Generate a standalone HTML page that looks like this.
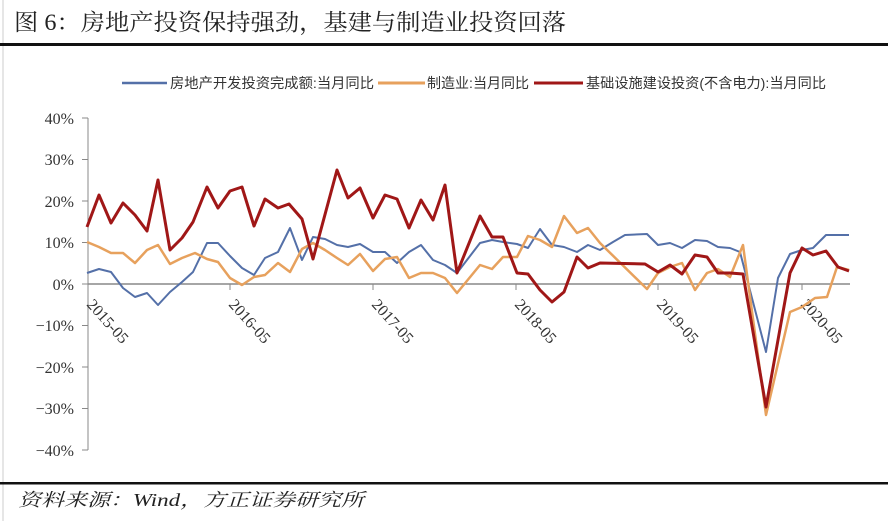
<!DOCTYPE html>
<html><head><meta charset="utf-8"><style>
body{margin:0;background:#fff;}
svg{display:block;}
</style></head><body>
<svg width="888" height="521" viewBox="0 0 888 521" xmlns="http://www.w3.org/2000/svg">
<rect width="888" height="521" fill="#fff"/>
<line x1="3" y1="0" x2="3" y2="521" stroke="#ccc" stroke-width="1"/>
<text x="14" y="30" textLength="552" lengthAdjust="spacingAndGlyphs" font-family="'Liberation Serif','Noto Serif CJK SC',serif" font-size="23" fill="#222">图 6：房地产投资保持强劲，基建与制造业投资回落</text>
<rect x="0" y="43" width="888" height="3" fill="#111"/>
<g font-family="'Liberation Sans','Noto Sans CJK SC',sans-serif" font-size="14" fill="#333">
<line x1="122" y1="83" x2="167" y2="83" stroke="#5470a8" stroke-width="2.5"/>
<text x="170" y="88" textLength="204" lengthAdjust="spacingAndGlyphs">房地产开发投资完成额:当月同比</text>
<line x1="378" y1="83" x2="425" y2="83" stroke="#e7a15d" stroke-width="3"/>
<text x="427" y="88" textLength="102" lengthAdjust="spacingAndGlyphs">制造业:当月同比</text>
<line x1="534" y1="83" x2="583" y2="83" stroke="#a01717" stroke-width="3"/>
<text x="586" y="88" textLength="240" lengthAdjust="spacingAndGlyphs">基础设施建设投资(不含电力):当月同比</text>
</g>
<g font-family="'Liberation Serif',serif" font-size="16" fill="#333" text-anchor="end">
<text x="74" y="124">40%</text><text x="74" y="165">30%</text><text x="74" y="207">20%</text><text x="74" y="248">10%</text><text x="74" y="290">0%</text><text x="74" y="331">−10%</text><text x="74" y="373">−20%</text><text x="74" y="414">−30%</text><text x="74" y="456">−40%</text>
</g>
<g stroke="#888" stroke-width="1">
<line x1="88" y1="118" x2="88" y2="450"/>
<line x1="82" y1="118" x2="88" y2="118"/><line x1="82" y1="159.5" x2="88" y2="159.5"/><line x1="82" y1="201" x2="88" y2="201"/><line x1="82" y1="242.5" x2="88" y2="242.5"/><line x1="82" y1="284" x2="88" y2="284"/><line x1="82" y1="325.5" x2="88" y2="325.5"/><line x1="82" y1="367" x2="88" y2="367"/><line x1="82" y1="408.5" x2="88" y2="408.5"/><line x1="82" y1="450" x2="88" y2="450"/>
<line x1="88" y1="284" x2="850" y2="284" stroke-width="1.5"/>
<line x1="230" y1="284" x2="230" y2="290"/><line x1="373" y1="284" x2="373" y2="290"/><line x1="516" y1="284" x2="516" y2="290"/><line x1="658" y1="284" x2="658" y2="290"/><line x1="802" y1="284" x2="802" y2="290"/>
</g>
<g font-family="'Liberation Serif',serif" font-size="16" fill="#333">
<text transform="translate(86,305) rotate(48)">2015-05</text>
<text transform="translate(228,305) rotate(48)">2016-05</text>
<text transform="translate(371,305) rotate(48)">2017-05</text>
<text transform="translate(514,305) rotate(48)">2018-05</text>
<text transform="translate(656,305) rotate(48)">2019-05</text>
<text transform="translate(800,305) rotate(48)">2020-05</text>
</g>
<polyline fill="none" stroke="#5470a8" stroke-width="2" stroke-linejoin="round" points="87,273 99,269 111,272 123,288 135,297 147,293 158,305 170,292 182,282 193,272 207,243 218,243 230,256 242,268 254,275 265,258 278,252 290,228 302,260 313,237 325,239 337,245 348,247 360,244 373,252 385,252 397,263 409,252 421,245 433,260 445,265 457,273 480,243 492,240 503,242 517,244 528,248 540,229 552,245 564,247 577,252 588,245 600,250 613,242 625,235 647,234 658,245 670,243 682,248 695,240 707,241 718,247 730,248 740,252 766,352 778,278 790,254 802,250 813,248 826,235 849,235"/>
<polyline fill="none" stroke="#e7a15d" stroke-width="2.5" stroke-linejoin="round" points="87,242 99,247 111,253 123,253 135,263 147,250 158,245 170,264 182,258 195,253 207,259 218,262 230,278 242,285 254,277 265,275 278,263 290,272 302,249 313,243 325,250 337,258 348,265 360,254 373,271 385,259 397,257 409,278 421,273 433,273 445,278 457,293 480,265 492,269 503,257 517,257 528,236 540,240 552,247 564,216 577,233 588,228 600,243 647,289 658,273 670,267 682,263 695,290 707,273 718,269 730,277 743,245 766,415 790,312 802,307 815,298 827,297 837,267 849,270"/>
<polyline fill="none" stroke="#a01717" stroke-width="3" stroke-linejoin="round" points="87,227 99,195 111,223 123,203 135,215 147,231 158,180 170,250 182,238 193,222 207,187 218,208 230,191 242,187 254,226 265,199 278,208 289,204 302,219 313,259 337,170 348,198 360,188 373,218 385,195 397,199 409,228 421,200 433,220 445,185 457,273 480,216 492,237 503,237 517,273 528,274 540,290 552,302 564,292 577,257 588,268 600,263 645,264 658,272 670,265 682,274 695,255 707,257 718,273 730,273 743,274 766,407 790,273 802,248 813,255 826,251 838,267 849,271"/>
<rect x="0" y="482" width="888" height="2.5" fill="#111"/>
<text x="18" y="506" textLength="346" lengthAdjust="spacingAndGlyphs" font-family="'Liberation Serif','Noto Serif CJK SC',serif" font-size="18" font-style="italic" fill="#222">资料来源：Wind，方正证券研究所</text>
</svg>
</body></html>
